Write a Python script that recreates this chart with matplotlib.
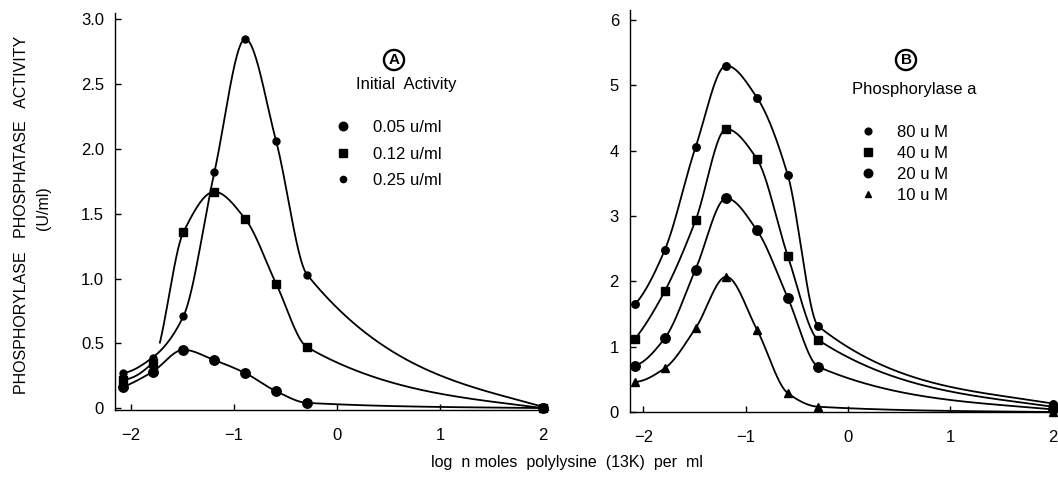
import numpy as np
import matplotlib
matplotlib.use("Agg")
import matplotlib.pyplot as plt
from matplotlib.lines import Line2D

plt.rcParams['font.family'] = ['Liberation Sans', 'DejaVu Sans']

# ---------------- data ----------------
log_conc = [-2.08, -1.79, -1.49, -1.19, -0.89, -0.59, -0.29, 2.0]

# Panel A: initial activity
a_labels = ["0.05 u/ml", "0.12 u/ml", "0.25 u/ml"]
a_005 = [0.16, 0.28, 0.45, 0.37, 0.27, 0.13, 0.04, 0.0]
a_012 = [0.22, 0.35, 1.36, 1.67, 1.46, 0.96, 0.47, 0.0]
a_025 = [0.27, 0.39, 0.71, 1.82, 2.85, 2.06, 1.03, 0.01]

# Panel B: phosphorylase a
b_labels = ["80 u M", "40 u M", "20 u M", "10 u M"]
b_80 = [1.65, 2.48, 4.05, 5.30, 4.81, 3.63, 1.31, 0.13]
b_40 = [1.12, 1.85, 2.93, 4.33, 3.87, 2.39, 1.10, 0.08]
b_20 = [0.71, 1.13, 2.18, 3.27, 2.78, 1.75, 0.69, 0.04]
b_10 = [0.46, 0.67, 1.28, 2.07, 1.26, 0.29, 0.08, 0.0]

a_yticks = [0, 0.5, 1.0, 1.5, 2.0, 2.5, 3.0]
a_yticklabels = ["0", "0.5", "1.0", "1.5", "2.0", "2.5", "3.0"]
b_yticks = [0, 1, 2, 3, 4, 5, 6]
b_yticklabels = ["0", "1", "2", "3", "4", "5", "6"]
xticks = [-2, -1, 0, 1, 2]
xticklabels = ["\u22122", "\u22121", "0", "1", "2"]


# -------------- smooth curve (monotone cubic) --------------
def smooth(x, y, n=600):
    x = np.asarray(x, float); y = np.asarray(y, float)
    h = np.diff(x); d = np.diff(y) / h
    m = np.zeros_like(x)
    for k in range(1, len(x) - 1):
        if d[k - 1] * d[k] <= 0:
            m[k] = 0.0
        else:
            w1 = 2 * h[k] + h[k - 1]
            w2 = h[k] + 2 * h[k - 1]
            m[k] = (w1 + w2) / (w1 / d[k - 1] + w2 / d[k])
    m0 = ((2 * h[0] + h[1]) * d[0] - h[0] * d[1]) / (h[0] + h[1])
    if np.sign(m0) != np.sign(d[0]):
        m0 = 0.0
    elif np.sign(d[0]) != np.sign(d[1]) and abs(m0) > 3 * abs(d[0]):
        m0 = 3 * d[0]
    m[0] = m0
    m[-1] = 0.5 * d[-1]
    xs = np.linspace(x[0], x[-1], n)
    idx = np.clip(np.searchsorted(x, xs) - 1, 0, len(x) - 2)
    t = (xs - x[idx]) / h[idx]
    h00 = 2 * t**3 - 3 * t**2 + 1
    h10 = t**3 - 2 * t**2 + t
    h01 = -2 * t**3 + 3 * t**2
    h11 = t**3 - t**2
    ys = h00 * y[idx] + h10 * h[idx] * m[idx] + h01 * y[idx + 1] + h11 * h[idx] * m[idx + 1]
    return xs, ys


fig = plt.figure(figsize=(10.58, 4.79), dpi=100)
W, H = 1058, 479


def add_axes(l, t, r, b):
    return fig.add_axes([l / W, 1 - b / H, (r - l) / W, (b - t) / H])


axA = add_axes(115, 13, 548, 410)
axB = add_axes(630, 10, 1058, 412)

lw = 1.3
col = 'black'

# Panel A
specA = [(a_005, 'o', 6.8), (a_012, 's', 5.8), (a_025, 'o', 5.0)]
for i, (vals, mk, ms) in enumerate(specA):
    xs, ys = smooth(log_conc, vals)
    if i == 1:
        ys = np.where((xs > -1.765) & (xs < -1.72), np.nan, ys)
    axA.plot(xs, ys, color=col, lw=lw, zorder=2)
    axA.plot(log_conc, vals, linestyle='none', marker=mk, ms=ms, color=col,
             clip_on=False, zorder=3)

# Panel B
specB = [(b_80, 'o', 5.4), (b_40, 's', 5.8), (b_20, 'o', 6.8), (b_10, '^', 5.2)]
for vals, mk, ms in specB:
    xs, ys = smooth(log_conc, vals)
    axB.plot(xs, ys, color=col, lw=lw, zorder=2)
    axB.plot(log_conc, vals, linestyle='none', marker=mk, ms=ms, color=col,
             clip_on=False, zorder=3)

for ax in (axA, axB):
    for s in ('top', 'right'):
        ax.spines[s].set_visible(False)
    ax.spines['left'].set_linewidth(1.0)
    ax.spines['bottom'].set_linewidth(1.0)
    ax.tick_params(direction='in', length=4, width=1.0, labelsize=12)
    ax.tick_params(axis='x', pad=13)
    ax.tick_params(axis='y', pad=8)
    ax.set_xticks(xticks)
    ax.set_xticklabels(xticklabels)

axA.set_xlim(-2.155, 2.05)
axA.set_ylim(-0.015, 3.05)
axA.set_yticks(a_yticks)
axA.set_yticklabels(a_yticklabels)

axB.set_xlim(-2.13, 2.05)
axB.set_ylim(0.0, 6.15)
axB.set_yticks(b_yticks)
axB.set_yticklabels(b_yticklabels)

# Axis titles
fig.text(22 / W, 1 - 215 / H, "PHOSPHORYLASE   PHOSPHATASE   ACTIVITY",
         rotation=90, ha='center', va='center', fontsize=11.5)
fig.text(44 / W, 1 - 208 / H, "(U/ml)", rotation=90, ha='center',
         va='center', fontsize=11.5)
fig.text(567 / W, 1 - 463 / H, "log  n moles  polylysine  (13K)  per  ml",
         ha='center', va='center', fontsize=11.5)

# Panel headers
circ = dict(boxstyle='circle,pad=0.2', fc='white', ec='black', lw=1.7)
fig.text(394 / W, 1 - 60 / H, "A", ha='center', va='center', fontsize=11,
         fontweight='bold', bbox=circ)
fig.text(406 / W, 1 - 85 / H, "Initial  Activity", ha='center', va='center',
         fontsize=12)
fig.text(906 / W, 1 - 60 / H, "B", ha='center', va='center', fontsize=11,
         fontweight='bold', bbox=circ)
fig.text(914 / W, 1 - 89 / H, "Phosphorylase a", ha='center', va='center',
         fontsize=12)

# Legends
hA = [Line2D([], [], linestyle='none', marker=mk, ms=ms * 0.9, color=col)
      for _, mk, ms in specA]
legA = fig.legend(hA, a_labels, loc='upper left',
                  bbox_to_anchor=(335 / W, 1 - 120 / H), frameon=False,
                  fontsize=12, handlelength=1.0, handletextpad=1.3,
                  labelspacing=0.7, borderpad=0, borderaxespad=0)
hB = [Line2D([], [], linestyle='none', marker=mk, ms=ms * 0.9, color=col)
      for _, mk, ms in specB]
legB = fig.legend(hB, b_labels, loc='upper left',
                  bbox_to_anchor=(860 / W, 1 - 125 / H), frameon=False,
                  fontsize=12, handlelength=1.0, handletextpad=1.2,
                  labelspacing=0.36, borderpad=0, borderaxespad=0)

fig.savefig("out.png", dpi=100)
